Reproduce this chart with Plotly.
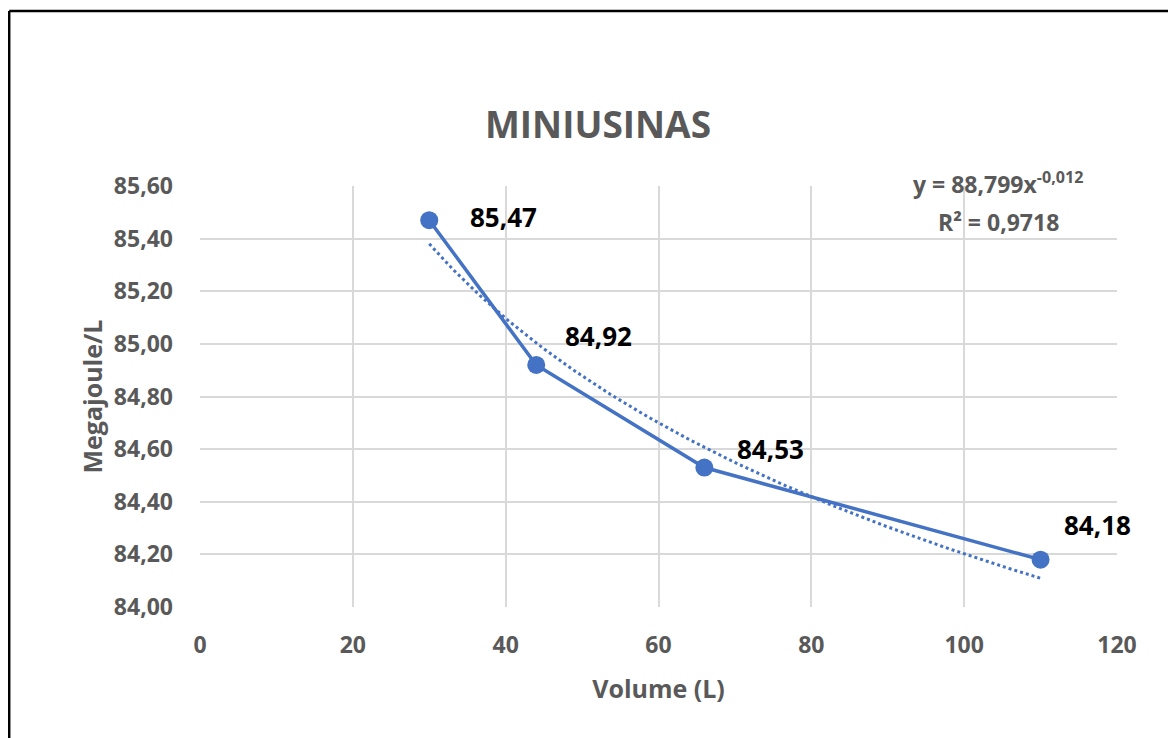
import numpy as np
import plotly.graph_objects as go

# ---- data ----
volumes = [30, 44, 66, 110]
megajoule = [85.47, 84.92, 84.53, 84.18]
x_ticks = [0, 20, 40, 60, 80, 100, 120]
y_ticks = [84.0, 84.2, 84.4, 84.6, 84.8, 85.0, 85.2, 85.4, 85.6]
title_text = "MINIUSINAS"
x_title = "Volume (L)"
y_title = "Megajoule/L"
eq_line1 = "y = 88,799x<sup>-0,012</sup>"
eq_line2 = "R² = 0,9718"

# ---- power trendline fitted from the data ----
lx = np.log(np.array(volumes, dtype=float))
ly = np.log(np.array(megajoule, dtype=float))
b, ln_a = np.polyfit(lx, ly, 1)
xt = np.linspace(min(volumes), max(volumes), 200)
yt = np.exp(ln_a) * xt ** b

FONT = "Open Sans"
GRAY = "#595959"
BLUE = "#4472C4"

# page has an 8px body margin; work in figure pixels
OFF = 8
W, H = 1176 - OFF, 738 - OFF
L, T = 200 - OFF, 186 - OFF
pw, ph = 917, 421
R, B = W - L - pw, H - T - ph


def px(xpage):
    return (xpage - OFF - L) / pw


def py(ypage):
    return (T + ph - (ypage - OFF)) / ph


fig = go.Figure()
fig.add_trace(go.Scatter(x=xt, y=yt, mode="lines",
                         line=dict(color=BLUE, width=3, dash="dot"),
                         hoverinfo="skip", showlegend=False))
fig.add_trace(go.Scatter(x=volumes, y=megajoule, mode="lines+markers",
                         line=dict(color=BLUE, width=3.5),
                         marker=dict(color=BLUE, size=18),
                         showlegend=False))

# data labels (pixel offsets from point to label centre)
label_offsets = [(74, 3), (62, 29), (66, 19), (57, 35)]
for xv, yv, (dx, dy) in zip(volumes, megajoule, label_offsets):
    fig.add_annotation(x=xv, y=yv, text=f"{yv:.2f}".replace(".", ","),
                       showarrow=False, xshift=dx, yshift=dy,
                       font=dict(family=FONT, size=26, color="black", weight="bold"))

# trendline equation
fig.add_annotation(xref="paper", yref="paper", x=px(998), y=py(183),
                   xanchor="center", yanchor="middle",
                   text=eq_line1, showarrow=False,
                   font=dict(family=FONT, size=23, color=GRAY, weight="bold"))
fig.add_annotation(xref="paper", yref="paper", x=px(998), y=py(222),
                   xanchor="center", yanchor="middle",
                   text=eq_line2, showarrow=False,
                   font=dict(family=FONT, size=23, color=GRAY, weight="bold"))

# outer border (top and left visible)
bx = (1.2 - L) / pw
by = (T + ph - 3) / ph
fig.add_shape(type="line", xref="paper", yref="paper", x0=bx, x1=(W + 10 - L) / pw,
              y0=by, y1=by, line=dict(color="black", width=2.5))
fig.add_shape(type="line", xref="paper", yref="paper", x0=bx, x1=bx,
              y0=by, y1=(-B - 10) / ph, line=dict(color="black", width=2.5))

fig.update_layout(
    width=W, height=H,
    margin=dict(l=L, r=R, t=T, b=B),
    paper_bgcolor="white", plot_bgcolor="white",
    separators=",.",
    title=dict(text=title_text, x=(598 - OFF) / W, xanchor="center",
               y=1 - (125 - OFF) / H, yanchor="middle",
               font=dict(family=FONT, size=37, color=GRAY, weight="bold")),
    font=dict(family=FONT, color=GRAY),
)
fig.update_xaxes(range=[0, 120], tickvals=x_ticks, ticktext=[str(v) for v in x_ticks],
                 showgrid=True, gridcolor="#d9d9d9", gridwidth=1.5,
                 zeroline=False, showline=False, ticks="",
                 ticklabelstandoff=22,
                 tickfont=dict(family=FONT, size=23, color=GRAY, weight="bold"),
                 title=dict(text=x_title, standoff=21,
                            font=dict(family=FONT, size=25, color=GRAY, weight="bold")))
fig.update_yaxes(range=[84.0, 85.6], tickvals=y_ticks, tickformat=".2f",
                 showgrid=True, gridcolor="#d9d9d9", gridwidth=1.5,
                 zeroline=False, showline=False, ticks="",
                 ticklabelstandoff=26,
                 tickfont=dict(family=FONT, size=23, color=GRAY, weight="bold"),
                 title=dict(text=y_title, standoff=4,
                            font=dict(family=FONT, size=25, color=GRAY, weight="bold")))

fig.write_html("out.html")
